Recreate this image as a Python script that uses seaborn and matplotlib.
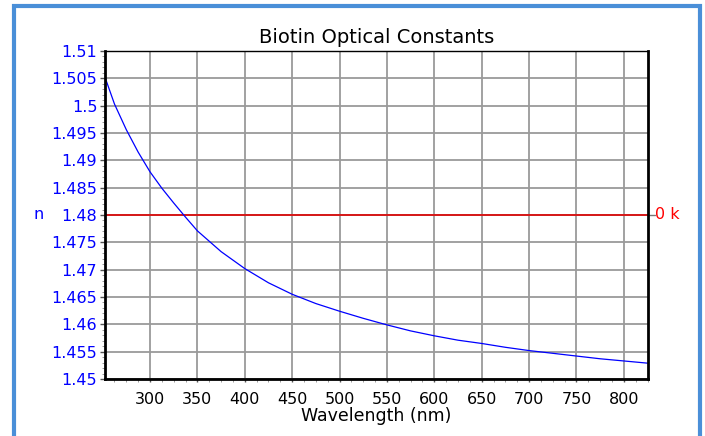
import numpy as np
import pandas as pd
import matplotlib.pyplot as plt
import seaborn as sns
from matplotlib.patches import Rectangle
from matplotlib.ticker import MultipleLocator

plt.switch_backend('Agg')

# values
wavelength = [252.5, 262.5, 275, 287.5, 300, 312.5, 325, 337.5, 350, 375, 400, 425, 450,
              475, 500, 525, 550, 575, 600, 625, 650, 675, 700, 725, 750, 775, 800, 825]
n_values = [1.5052, 1.5003, 1.4956, 1.4915, 1.4879, 1.4849, 1.4822, 1.4796, 1.4771, 1.4733,
            1.4702, 1.4676, 1.4655, 1.4638, 1.4624, 1.4611, 1.4599, 1.4588, 1.4579, 1.4571,
            1.4565, 1.4558, 1.4552, 1.4547, 1.4542, 1.4537, 1.4533, 1.4529]
k_level = 1.48
x_ticks = [300, 350, 400, 450, 500, 550, 600, 650, 700, 750, 800]
y_ticks = [1.45, 1.455, 1.46, 1.465, 1.47, 1.475, 1.48, 1.485, 1.49, 1.495, 1.5, 1.505, 1.51]
y_labels = ['1.45', '1.455', '1.46', '1.465', '1.47', '1.475', '1.48', '1.485', '1.49',
            '1.495', '1.5', '1.505', '1.51']

df = pd.DataFrame({'Wavelength': wavelength, 'n': n_values})

sns.set_style('white')
plt.rcParams['font.family'] = ['DejaVu Sans']

fig = plt.figure(figsize=(7.05, 4.36), dpi=100)
ax = fig.add_axes([105 / 705, 1 - 379 / 436, 543 / 705, 328 / 436])

ax.grid(True, color='#9a9a9a', linewidth=1.3, zorder=0)
ax.axhline(k_level, color='#e00000', linewidth=1.2, zorder=2)
sns.lineplot(data=df, x='Wavelength', y='n', color='blue', linewidth=0.9, ax=ax, zorder=3)

ax.set_xlim(252.5, 825.5)
ax.set_ylim(1.45, 1.51)
ax.set_xticks(x_ticks)
ax.set_xticklabels([str(t) for t in x_ticks], fontsize=11.5, color='black')
ax.set_yticks(y_ticks)
ax.set_yticklabels(y_labels, fontsize=11.5, color='blue')
ax.xaxis.set_minor_locator(MultipleLocator(12.5))
ax.yaxis.set_minor_locator(MultipleLocator(0.001))
ax.tick_params(axis='both', which='major', direction='out', length=3.5, width=1, pad=2,
               bottom=True, left=True, color='#555555')
ax.tick_params(axis='both', which='minor', direction='out', length=2.5, width=0.7,
               bottom=True, left=True, color='#999999')
ax.tick_params(axis='x', which='major', length=2.5, pad=7)
ax.set_xlabel('Wavelength (nm)', fontsize=12.5, labelpad=0, color='black')
ax.set_ylabel('')

for side in ['left', 'bottom', 'right']:
    ax.spines[side].set_linewidth(2)
ax.spines['top'].set_linewidth(1)
for s in ax.spines.values():
    s.set_color('black')
    s.set_zorder(5)

ax.set_title('Biotin Optical Constants', fontsize=14, pad=6, color='black')

# n label on the left and k label on the right at the k=0 level
ax.text(-0.122, k_level, 'n', transform=ax.get_yaxis_transform(), color='blue',
        fontsize=11.5, ha='center', va='center')
ax.plot([1.0, 1.012], [k_level, k_level], transform=ax.get_yaxis_transform(),
        color='#777777', linewidth=1, clip_on=False)
ax.text(1.013, k_level, '0 k', transform=ax.get_yaxis_transform(), color='red',
        fontsize=11.5, ha='left', va='center')

# blue frame around the figure
fig.patches.append(Rectangle((14 / 705, -0.05), 686 / 705, 1.05 - 6 / 436,
                             transform=fig.transFigure, fill=False,
                             edgecolor='#4a8fd8', linewidth=3))

fig.savefig('out.png', dpi=100)
plt.close()
